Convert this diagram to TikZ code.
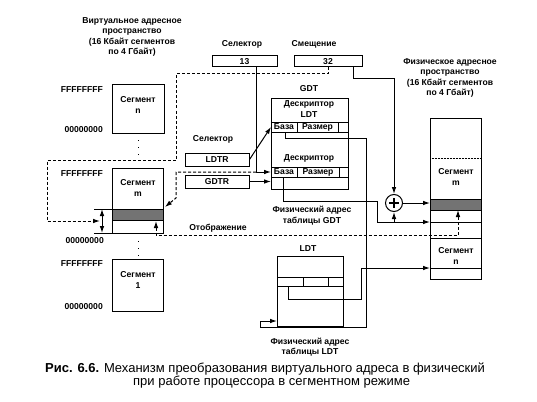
\documentclass[tikz,border=0pt]{standalone}
\usepackage{fontspec}
\setmainfont{Liberation Sans}
\usetikzlibrary{arrows.meta,calc}
\begin{document}
\begin{tikzpicture}[x=1pt,y=-1pt,
  tx/.style={font=\bfseries\fontsize{8.6}{10.4}\selectfont},
  lab/.style={tx, align=center, inner sep=0pt},
  bx/.style={draw, line width=1pt, inner sep=0pt},
  ln/.style={line width=1pt},
  dl/.style={line width=1pt, dash pattern=on 3pt off 2pt},
  ar/.style={-{Latex[length=7pt,width=4.6pt]}},
  dar/.style={{Latex[length=7pt,width=4.6pt]}-{Latex[length=7pt,width=4.6pt]}},
  hf/.style={fill=black!55},
  capt/.style={font=\fontsize{13}{14}\selectfont, inner sep=0pt, anchor=west},
]
\useasboundingbox (0,0) rectangle (537,401);

% titles
\node[lab] (vt) at (132,37) {Виртуальное адресное\\пространство\\(16 Кбайт сегментов\\по 4 Гбайт)};
\node[lab] (pt) at (450,78) {Физическое адресное\\пространство\\(16 Кбайт сегментов\\по 4 Гбайт)};

% selector / offset
\node[lab] (sel1) at (242,44) {Селектор};
\node[lab] (smq) at (314,44) {Смещение};
\node[bx, tx, minimum width=65pt, minimum height=11pt] (b13) at (244.5,61.5) {13};
\node[bx, tx, minimum width=68pt, minimum height=11pt] (b32) at (328,61.5) {32};

% virtual segments
\node[bx, minimum width=52pt, minimum height=49pt, anchor=north west] (segn) at (112,84) {};
\node[lab] (segnt) at (138,105) {Сегмент\\n};
\node[lab, anchor=east] (fn) at (103,90) {FFFFFFFF};
\node[lab, anchor=east] (zn) at (103,130) {00000000};
\draw[line width=1pt, dash pattern=on 1pt off 6pt] (138,140) -- (138,157);

\node[bx, minimum width=51pt, minimum height=65pt, anchor=north west] (segm) at (112,168) {};
\draw[ln, hf] (112,209) rectangle (163,220);
\node[lab] (segmt) at (138,188) {Сегмент\\m};
\node[lab, anchor=east] (fm) at (103,174) {FFFFFFFF};
\node[lab, anchor=east] (zm) at (104,241) {00000000};
\draw[line width=1pt, dash pattern=on 1pt off 6pt] (138,241) -- (138,257);

\node[bx, minimum width=51pt, minimum height=52pt, anchor=north west] (seg1) at (112,259) {};
\node[lab] (seg1t) at (138,280) {Сегмент\\1};
\node[lab, anchor=east] (f1) at (103,264) {FFFFFFFF};
\node[lab, anchor=east] (z1) at (103,307) {00000000};

% offset measure
\coordinate (mt) at (102,209);
\coordinate (mb) at (102,233);
\draw[ln] (94,209) -- (112,209) (94,233) -- (112,233);
\draw[ln, dar] (mt) -- (mb);

% LDTR / GDTR
\node[lab] (sel2) at (213,139) {Селектор};
\node[bx, tx, minimum width=64pt, minimum height=13pt] (ldtr) at (217,159.5) {LDTR};
\node[bx, tx, minimum width=64pt, minimum height=13pt] (gdtr) at (217,181.5) {GDTR};

% GDT
\node[lab] (gdtl) at (309,89) {GDT};
\node[bx, minimum width=77pt, minimum height=91pt, anchor=north west] (gdt) at (271,98) {};
\draw[ln] (271,122) -- (348,122) (271,132) -- (348,132) (297,122) -- (297,132) (338,122) -- (338,132);
\draw[ln] (271,167) -- (348,167) (271,177) -- (348,177) (297,167) -- (297,177) (339,167) -- (339,177);
\node[lab] (d1) at (309,109) {Дескриптор\\LDT};
\node[lab] (d2) at (309,158) {Дескриптор};
\node[lab] (b1) at (284,127) {База};
\node[lab] (r1) at (317.5,127) {Размер};
\node[lab] (b2) at (284,172) {База};
\node[lab] (r2) at (318,172) {Размер};
\node[lab] (gdta) at (312,215.5) {Физический адрес\\таблицы GDT};

% adder
\node[draw, circle, line width=1pt, minimum size=17pt, inner sep=0pt] (add) at (394,203) {};
\draw[line width=1.4pt] (389,203) -- (399,203) (394,198) -- (394,208);

% physical memory
\node[lab] (pm) at (456,177) {Сегмент\\m};
\node[lab] (pn) at (456,256) {Сегмент\\n};
\node[bx, minimum width=51pt, minimum height=161pt, anchor=north west] (phys) at (430,118) {};
\draw[line width=0.5pt, densely dotted] (430,158) -- (481,158);
\draw[ln, hf] (430,199) rectangle (481,210);
\draw[ln] (430,222) -- (481,222) (430,238) -- (481,238) (430,268) -- (481,268);

% LDT
\node[lab] (ldtl) at (308,249) {LDT};
\node[bx, minimum width=66pt, minimum height=70pt, anchor=north west] (ldt) at (277,256) {};
\draw[ln] (277,277) -- (343,277) (277,286) -- (343,286) (303,277) -- (303,286) (328,277) -- (328,286);
\node[lab] (ldta) at (310,347) {Физический адрес\\таблицы LDT};

\node[lab] (otb) at (218,228) {Отображение};

% connectors
\coordinate (o32) at (353,67);
\draw[ln, ar] (o32) -- (353,79) -- (394,79) -- (add.north);
\coordinate (o13) at (256,67);
\draw[ln, ar] (o13) -- (256,172) -- (271,172);
\draw[dl, ar] (b32.south) -- (328,74) -- (176,74) -- (176,160) -- (47,160) -- (47,221) -- (100,221);
\draw[dl, ar] (256,172) -- (176,172) -- (176,198) -- (165,207);
\draw[ln, ar] (ldtr.east) -- (271,127);
\draw[ln, ar] (gdtr.east) -- (271,181.5);
\draw[ln, ar] (285,132) -- (285,138) -- (366,138) -- (366,327) -- (260,327) -- (260,321) -- (277,321);
\draw[ln, ar] (283,177) -- (283,201) -- (377,201) -- (377,222) -- (430,222);
\draw[ln, ar] (394,222) -- (add.south);
\draw[ln, ar] (add.east) -- (430,203);
\draw[dl, dar] (156,221) -- (156,235) -- (458,235) -- (458,210);
\draw[ln, ar] (288,286) -- (288,299) -- (361,299) -- (361,268) -- (430,268);

% caption
\node[capt] (cap1) at (45,369) {\textbf{Рис. 6.6.} Механизм преобразования виртуального адреса в физический};
\node[capt] (cap2) at (133,382) {при работе процессора в сегментном режиме};
\end{tikzpicture}
\end{document}
